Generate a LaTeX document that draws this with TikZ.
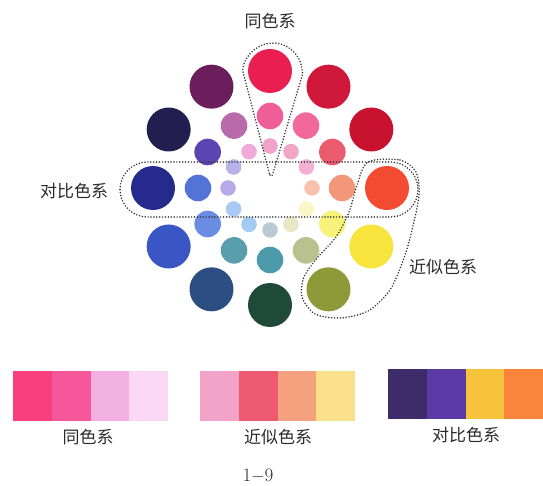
\documentclass[tikz,border=0pt]{standalone}
\usepackage{fontspec}
\newfontfamily\cjk{Noto Sans CJK SC}
\usetikzlibrary{calc}
\definecolor{labelgray}{HTML}{2B2B2B}
\definecolor{dotgray}{HTML}{333333}

\begin{document}
\begin{tikzpicture}[x=1pt,y=1pt,
  dotline/.style={dotgray, line width=1.7pt, line cap=round, dash pattern=on 0pt off 2.9pt},
  lbl/.style={text=labelgray, font=\cjk\fontsize{17}{17}\selectfont, inner sep=0pt}]
\useasboundingbox (0,0) rectangle (543,485);
\coordinate (C) at (270,297);
% outer ring
\foreach \a/\c in {90/E81F50,60/D0193A,30/C8122F,0/F24B32,-30/F7E43C,-60/8C9A3A,
                   -90/1F4A38,-120/2D4E82,-150/3A55C4,180/262A8C,150/221E50,120/6A1F5C}{
  \definecolor{dot}{HTML}{\c}
  \fill[dot] ($(C)+(\a:117)$) circle (22);
}
% middle ring
\foreach \a/\c in {90/F05E98,60/F2689A,30/EC5A6E,0/F3987A,-30/F8F27A,-60/B9C28E,
                   -90/4D9AAA,-120/5A9EAC,-150/6A8CE2,180/5374D6,150/5A45B2,120/B86AAA}{
  \definecolor{dot}{HTML}{\c}
  \fill[dot] ($(C)+(\a:72)$) circle (13.3);
}
% inner ring
\foreach \a/\c in {90/F0A2CA,60/F2A6C6,30/F2B0D4,0/F8C2AC,-30/FAF6C8,-60/E8E8C6,
                   -90/B9CAD2,-120/A2CCF2,-150/A8C8F6,180/B8A9E8,150/B8B2EA,120/F0AADA}{
  \definecolor{dot}{HTML}{\c}
  \fill[dot] ($(C)+(\a:42)$) circle (7.8);
}
% dotted groups
\coordinate (tip) at (271,305);
\coordinate (top) at (273,413);
\draw[dotline, rounded corners=7] (tip) -- ($(top)+(195.6:29)$) arc[start angle=195.6, end angle=-15.6, radius=29] -- cycle;
\draw[dotline, rounded corners=27.5] (120,268) rectangle (418,323);
\draw[dotline] plot[smooth cycle] coordinates {(368,323) (400,325) (416,313) (419,290) (412,255)
  (404,227) (390,195) (368,174) (340,167) (315,171) (302,188) (304,208) (318,228) (336,248)
  (349,273) (357,300)};
\node[lbl] (same) at (270,464) {同色系};
\node[lbl] (contrast) at (74,294) {对比色系};
\node[lbl] (similar) at (443,218) {近似色系};
% swatches
\foreach \i/\c in {0/FA3F7E,1/F5579A,2/F3B0E3,3/FAD8F5}{
  \definecolor{sw}{HTML}{\c}
  \fill[sw] (13+38.75*\i,64) rectangle ++(38.75,50);
}
\foreach \i/\c in {0/F2A3C8,1/EE5A72,2/F5A07E,3/FAE08A}{
  \definecolor{sw}{HTML}{\c}
  \fill[sw] (200+38.75*\i,64) rectangle ++(38.75,50);
}
\foreach \i/\c in {0/3D2B6A,1/5B3AA5,2/F8C33C,3/F8853A}{
  \definecolor{sw}{HTML}{\c}
  \fill[sw] (388+38.75*\i,66) rectangle ++(38.75,50);
}
\node[lbl] (swsame) at (88,48) {同色系};
\node[lbl] (swsimilar) at (278,48) {近似色系};
\node[lbl] (swcontrast) at (466,50) {对比色系};
\node[text=labelgray, font=\fontsize{19}{19}\selectfont, inner sep=0pt] (fig) at (258,9) {1$-$9};
\end{tikzpicture}
\end{document}
